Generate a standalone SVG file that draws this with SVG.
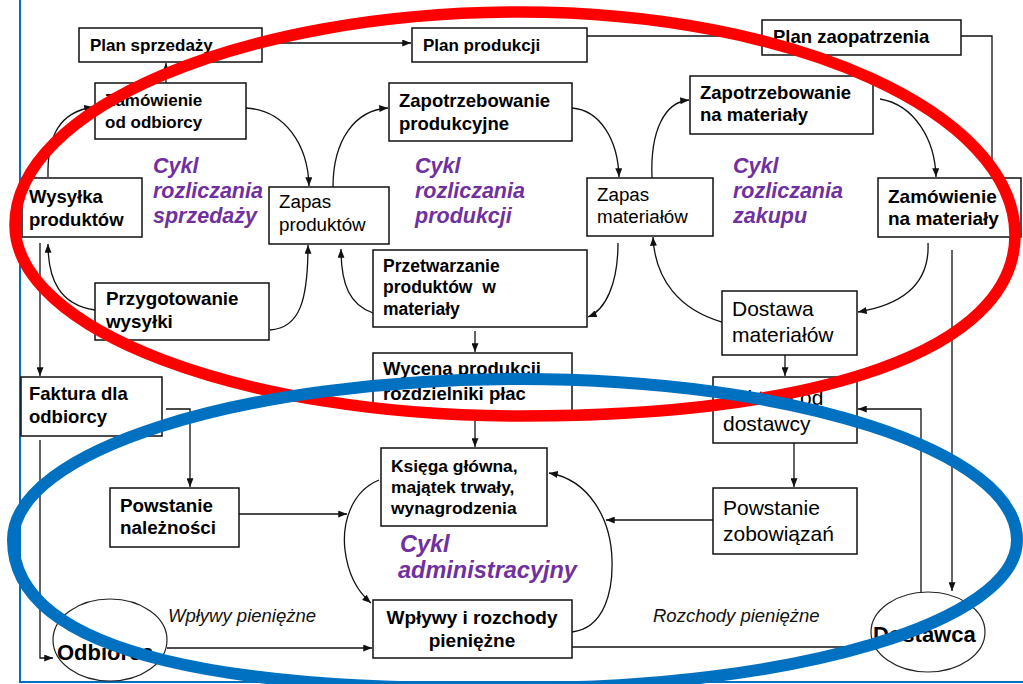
<svg xmlns="http://www.w3.org/2000/svg" width="1023" height="684" viewBox="0 0 1023 684">
<style>
.box{fill:#fff;stroke:#111;stroke-width:1.5}
.ell{fill:#fff;stroke:#222;stroke-width:1.2}
.c{fill:none;stroke:#111;stroke-width:1.3}
.b{font-family:"Liberation Sans",Arial,sans-serif;font-weight:bold;fill:#000}
.r{font-family:"Liberation Sans",Arial,sans-serif;fill:#000}
.it{font-family:"Liberation Sans",Arial,sans-serif;font-style:italic;fill:#111}
.cy{font-family:"Liberation Sans",Arial,sans-serif;font-weight:bold;font-style:italic;fill:#7030A0}
</style>
<defs>
<marker id="a" viewBox="0 0 10 8" refX="10" refY="4" markerWidth="9" markerHeight="7" orient="auto" markerUnits="userSpaceOnUse">
<path d="M0,0 L10,4 L0,8 z" fill="#111"/>
</marker>
</defs>
<rect width="1023" height="684" fill="#fff"/>
<path d="M20,0 V682 H1023" fill="none" stroke="#0070C0" stroke-width="2"/>

<g id="connectors">
<path class="c" d="M262,43 H411" marker-end="url(#a)"/>
<path class="c" d="M587,36 H761" marker-end="url(#a)"/>
<path class="c" d="M961,36 H992 V177" marker-end="url(#a)"/>
<path class="c" d="M166,83 V63" marker-end="url(#a)"/>
<path class="c" d="M246,108 C285,110 308,145 309,186" marker-end="url(#a)"/>
<path class="c" d="M333,187 C333,140 355,110 388,108" marker-end="url(#a)"/>
<path class="c" d="M572,108 C600,110 618,140 619,177" marker-end="url(#a)"/>
<path class="c" d="M652,178 C650,130 665,102 689,100" marker-end="url(#a)"/>
<path class="c" d="M880,99 C915,105 935,140 936,177" marker-end="url(#a)"/>
<path class="c" d="M928,243 C930,285 900,305 858,312" marker-end="url(#a)"/>
<path class="c" d="M722,322 C680,310 655,280 653,237" marker-end="url(#a)"/>
<path class="c" d="M618,243 C618,285 605,310 588,317" marker-end="url(#a)"/>
<path class="c" d="M373,313 C350,305 341,285 341,249" marker-end="url(#a)"/>
<path class="c" d="M270,330 C300,328 308,300 308,245" marker-end="url(#a)"/>
<path class="c" d="M95,310 C60,305 48,280 48,244" marker-end="url(#a)"/>
<path class="c" d="M48,177 C47,135 60,112 93,107" marker-end="url(#a)"/>
<path class="c" d="M40,243 V376" marker-end="url(#a)"/>
<path class="c" d="M166,409 H190 V487" marker-end="url(#a)"/>
<path class="c" d="M40,440 V658 H53" marker-end="url(#a)"/>
<path class="c" d="M239,514 H347" marker-end="url(#a)"/>
<path class="c" d="M713,520 H606" marker-end="url(#a)"/>
<path class="c" d="M167,648 H372" marker-end="url(#a)"/>
<path class="c" d="M572,647 H871" marker-end="url(#a)"/>
<path class="c" d="M475,331 V352" marker-end="url(#a)"/>
<path class="c" d="M475,412 V447" marker-end="url(#a)"/>
<path class="c" d="M785,355 V376" marker-end="url(#a)"/>
<path class="c" d="M794,443 V487" marker-end="url(#a)"/>
<path class="c" d="M921,593 V409 H858" marker-end="url(#a)"/>
<path class="c" d="M952,250 V591" marker-end="url(#a)"/>
<path class="c" d="M379,480 C350,492 342,525 345,550 C348,575 358,592 371,603" marker-end="url(#a)"/>
<path class="c" d="M572,632 C605,628 613,590 612,560 C611,520 590,480 549,473" marker-end="url(#a)"/>
<text class="it" x="168" y="622" font-size="18.5">Wpływy pieniężne</text>
<text class="it" x="653" y="622" font-size="18.5">Rozchody pieniężne</text>
</g>

<g id="plan-sprzedazy"><rect class="box" x="79" y="28" width="183" height="34"/><text class="b" x="90" y="51" font-size="17">Plan sprzedaży</text></g>
<g id="plan-produkcji"><rect class="box" x="412" y="28" width="175" height="34"/><text class="b" x="423" y="51" font-size="17">Plan produkcji</text></g>
<g id="plan-zaopatrzenia"><rect class="box" x="762" y="20" width="199" height="35"/><text class="b" x="773" y="43" font-size="18.5">Plan zaopatrzenia</text></g>
<g id="zamowienie-od-odbiorcy"><rect class="box" x="95" y="83" width="151" height="56"/><text class="b" x="105" y="106" font-size="17">Zamówienie</text><text class="b" x="105" y="128" font-size="17">od odbiorcy</text></g>
<g id="zapotrzebowanie-produkcyjne"><rect class="box" x="389" y="83" width="183" height="58"/><text class="b" x="399" y="107" font-size="18.5">Zapotrzebowanie</text><text class="b" x="399" y="130" font-size="18.5">produkcyjne</text></g>
<g id="zapotrzebowanie-na-materialy"><rect class="box" x="690" y="76" width="183" height="58"/><text class="b" x="700" y="99" font-size="18.5">Zapotrzebowanie</text><text class="b" x="700" y="121" font-size="18.5">na materiały</text></g>
<g id="wysylka-produktow"><rect class="box" x="22" y="178" width="120" height="59"/><text class="b" x="29" y="203" font-size="18.5">Wysyłka</text><text class="b" x="29" y="226" font-size="18.5">produktów</text></g>
<g id="zapas-produktow"><rect class="box" x="269" y="187" width="120" height="57"/><text class="r" x="279" y="208" font-size="18.8">Zapas</text><text class="r" x="279" y="231" font-size="18.8">produktów</text></g>
<g id="zapas-materialow"><rect class="box" x="587" y="178" width="126" height="58"/><text class="r" x="597" y="201" font-size="18.8">Zapas</text><text class="r" x="597" y="223" font-size="18.8">materiałów</text></g>
<g id="zamowienie-na-materialy"><rect class="box" x="878" y="178" width="143" height="59"/><text class="b" x="888" y="203" font-size="19">Zamówienie</text><text class="b" x="888" y="225" font-size="19">na materiały</text></g>
<g id="przetwarzanie"><rect class="box" x="373" y="250" width="214" height="77"/><text class="b" x="383" y="272" font-size="17.5">Przetwarzanie</text><text class="b" x="383" y="293" font-size="17.5">produktów&#160; w</text><text class="b" x="383" y="315" font-size="17.5">materiały</text></g>
<g id="przygotowanie-wysylki"><rect class="box" x="95" y="283" width="174" height="57"/><text class="b" x="106" y="305" font-size="18.8">Przygotowanie</text><text class="b" x="106" y="328" font-size="18.8">wysyłki</text></g>
<g id="dostawa-materialow"><rect class="box" x="722" y="291" width="135" height="64"/><text class="r" x="732" y="316" font-size="21">Dostawa</text><text class="r" x="732" y="342" font-size="21">materiałów</text></g>
<g id="wycena-produkcji"><rect class="box" x="373" y="353" width="199" height="59"/><text class="b" x="383" y="375" font-size="18.5">Wycena produkcji</text><text class="b" x="383" y="400" font-size="18.5">rozdzielniki płac</text></g>
<g id="faktura-dla-odbiorcy"><rect class="box" x="21" y="377" width="141" height="59"/><text class="b" x="29" y="400" font-size="18.5">Faktura dla</text><text class="b" x="29" y="423" font-size="18.5">odbiorcy</text></g>
<g id="faktura-od-dostawcy"><rect class="box" x="713" y="377" width="144" height="66"/><text class="r" x="723" y="405" font-size="21">Faktura od</text><text class="r" x="723" y="431" font-size="21">dostawcy</text></g>
<g id="ksiega-glowna"><rect class="box" x="381" y="448" width="166" height="78"/><text class="b" x="391" y="472" font-size="17.4">Księga główna,</text><text class="b" x="391" y="493" font-size="17.4">majątek trwały,</text><text class="b" x="391" y="514" font-size="17.4">wynagrodzenia</text></g>
<g id="powstanie-naleznosci"><rect class="box" x="110" y="488" width="129" height="59"/><text class="b" x="120" y="512" font-size="18.8">Powstanie</text><text class="b" x="120" y="534" font-size="18.8">należności</text></g>
<g id="powstanie-zobowiazan"><rect class="box" x="713" y="488" width="144" height="66"/><text class="r" x="723" y="515" font-size="21">Powstanie</text><text class="r" x="723" y="541" font-size="21">zobowiązań</text></g>
<g id="wplywy-rozchody"><rect class="box" x="373" y="600" width="199" height="58"/><text class="b" x="472" y="624" font-size="19" text-anchor="middle">Wpływy i rozchody</text><text class="b" x="472" y="647" font-size="19" text-anchor="middle">pieniężne</text></g>
<g id="odbiorca"><ellipse class="ell" cx="110" cy="640" rx="57" ry="41"/><text class="b" x="57" y="660" font-size="22">Odbiorca</text></g>
<g id="dostawca"><ellipse class="ell" cx="928" cy="632" rx="57" ry="40"/><text class="b" x="873" y="642" font-size="22">Dostawca</text></g>

<g id="cycle-labels">
<text class="cy" font-size="21.5"><tspan x="153" y="173">Cykl</tspan><tspan x="153" y="198">rozliczania</tspan><tspan x="153" y="223">sprzedaży</tspan></text>
<text class="cy" font-size="21.5"><tspan x="415" y="173">Cykl</tspan><tspan x="415" y="198">rozliczania</tspan><tspan x="415" y="223">produkcji</tspan></text>
<text class="cy" font-size="21.5"><tspan x="733" y="173">Cykl</tspan><tspan x="733" y="198">rozliczania</tspan><tspan x="733" y="223">zakupu</tspan></text>
<text class="cy" font-size="23.5"><tspan x="400" y="552">Cykl</tspan><tspan x="398" y="578">administracyjny</tspan></text>
</g>

<g id="highlights" fill="none">
<path d="M15,225 C15,109 241,12 520,12 C793,12 1015,113 1015,235 C1015,350 820,416 520,416 C241,416 15,330 15,225 Z" stroke="#FF0000" stroke-width="11.5"/>
<path d="M13,540 C13,451 240,379 520,379 C794,379 1017,451 1017,540 C1017,622 794,688 520,688 C250,692 13,660 13,540 Z" stroke="#0070C0" stroke-width="12"/>
</g>
</svg>
